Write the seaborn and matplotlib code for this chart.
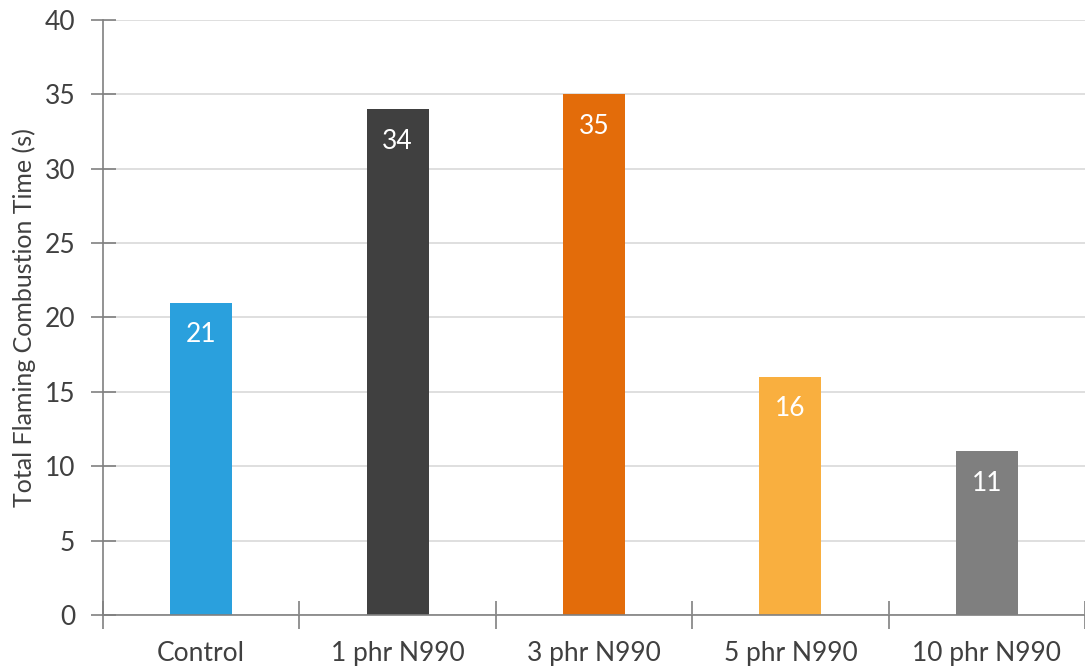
import matplotlib
matplotlib.use("Agg")
import matplotlib.pyplot as plt
import seaborn as sns
import pandas as pd
import numpy as np
from matplotlib.ticker import MultipleLocator, FixedLocator

categories = ["Control", "1 phr N990", "3 phr N990", "5 phr N990", "10 phr N990"]
values = [21, 34, 35, 16, 11]
colors = ["#2AA0DD", "#404040", "#E36C0A", "#F9AF3F", "#7F7F7F"]
y_label = "Total Flaming Combustion Time (s)"

df = pd.DataFrame({"sample": categories, "time": values})

sns.set_theme(style="white")
plt.rcParams["font.family"] = ["Lato", "DejaVu Sans"]

fig = plt.figure(figsize=(10.85, 6.68), dpi=100)
ax = fig.add_axes([103 / 1085, (668 - 615) / 668, (1085 - 103) / 1085, (615 - 20) / 668])

sns.barplot(data=df, x="sample", y="time", hue="sample", palette=colors,
            width=0.315, saturation=1, legend=False, ax=ax, zorder=2,
            linewidth=0)

ax.set_xlim(-0.5, len(categories) - 0.5)
ax.set_ylim(0, 40)
ax.yaxis.set_major_locator(MultipleLocator(5))
ax.grid(axis="y", color="#D9D9D9", linewidth=1.2, zorder=0)
ax.set_axisbelow(True)

for s in ["top", "right"]:
    ax.spines[s].set_visible(False)
for s in ["left", "bottom"]:
    ax.spines[s].set_color("#808080")
    ax.spines[s].set_linewidth(1.2)

ax.tick_params(axis="y", direction="inout", length=18, width=1.2, color="#808080",
               labelsize=19, labelcolor="#404040", pad=11, left=True)
ax.tick_params(axis="x", which="major", length=0, labelsize=19, labelcolor="#404040", pad=19)
ax.xaxis.set_minor_locator(FixedLocator(np.arange(-0.5, len(categories), 1.0)))
ax.tick_params(axis="x", which="minor", direction="inout", length=20, width=1.2,
               color="#808080", bottom=True)

ax.set_xlabel("")
ax.set_ylabel(y_label, fontsize=18, color="#404040", labelpad=6)

for container in ax.containers:
    ax.bar_label(container, fmt="%d", label_type="edge", padding=-32,
                 color="white", fontsize=19)

fig.savefig("out.png", dpi=100)
